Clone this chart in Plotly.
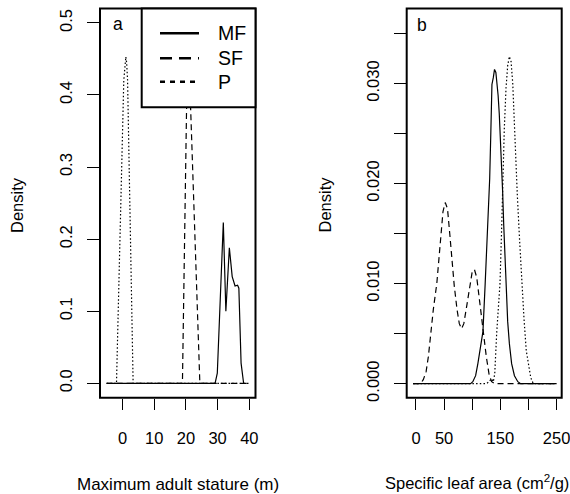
import plotly.graph_objects as go

W, H = 570, 494

# ---------------- data ----------------
# Panel a: maximum adult stature (m)
mf_a_x = [-5, 29.2, 29.9, 31.8, 32.6, 33.7, 34.6, 35.5, 36.3, 36.7, 37.4, 38.2]
mf_a_y = [0, 0, 0.014, 0.223, 0.100, 0.188, 0.148, 0.135, 0.136, 0.132, 0.028, 0]

sf_a_x = [-5, 18.9, 20.2, 20.85, 21.5, 24.4, 40]
sf_a_y = [0, 0, 0.38, 0.46, 0.38, 0, 0]

p_a_x = [-5, -1.9, 0.4, 0.75, 1.05, 1.3, 1.6, 3.35, 40]
p_a_y = [0, 0, 0.42, 0.445, 0.453, 0.445, 0.42, 0, 0]

# Panel b: specific leaf area (cm2/g)
mf_b_x = [-5, 97, 101, 106, 110, 114, 119, 123, 127, 131, 133, 135, 137.5,
          139.6, 142, 144, 146, 148, 150, 152, 154, 156, 158, 160, 163, 166,
          170, 175, 181, 186, 250]
mf_b_y = [0, 0, 0.0002, 0.0008, 0.0020, 0.0035, 0.0052, 0.0100, 0.0150, 0.0205,
          0.0250, 0.0299, 0.0306, 0.0314, 0.0311, 0.0302, 0.0288, 0.0270, 0.0248,
          0.0222, 0.0192, 0.0158, 0.0125, 0.0095, 0.0062, 0.0040, 0.0020, 0.0008,
          0.0002, 0, 0]

sf_b_x = [-5, 8, 13, 18, 22, 26, 31, 37, 44, 48, 52, 56, 60, 64, 68, 73, 77,
          81, 85, 90, 96, 100, 104, 108, 113, 117, 121, 125, 130, 134.5, 140, 250]
sf_b_y = [0, 0, 0.0004, 0.0012, 0.0027, 0.0050, 0.0075, 0.0100, 0.0150, 0.0172,
          0.0181, 0.0175, 0.0150, 0.0122, 0.0098, 0.0074, 0.0060, 0.0055, 0.0060,
          0.0077, 0.0100, 0.0112, 0.0114, 0.0106, 0.0083, 0.0064, 0.0050, 0.0027,
          0.0009, 0.0002, 0, 0]

p_b_x = [-5, 125, 130, 134, 137.5, 140, 143.4, 146.5, 149.3, 152, 154, 157, 160,
         163, 166, 169, 172, 176, 180, 184, 188, 192, 196, 200, 204, 208.5, 250]
p_b_y = [0, 0, 0.0002, 0.0005, 0.0002, 0.0010, 0.0050, 0.0075, 0.0100, 0.0150,
         0.0200, 0.0255, 0.0295, 0.0318, 0.0327, 0.0322, 0.0300, 0.0234, 0.0190,
         0.0145, 0.0100, 0.0065, 0.0033, 0.0017, 0.0006, 0, 0]

a_xticks = [0, 10, 20, 30, 40]
a_xlabels = ["0", "10", "20", "30", "40"]
a_yticks = [0, 0.1, 0.2, 0.3, 0.4, 0.5]
a_ylabels = ["0.0", "0.1", "0.2", "0.3", "0.4", "0.5"]
b_xticks = [0, 50, 150, 250]
b_xlabels = ["0", "50", "150", "250"]
b_xstep = 50
b_yticks = [0, 0.010, 0.020, 0.030]
b_ylabels = ["0.000", "0.010", "0.020", "0.030"]
b_ystep = 0.005

legend_names = ["MF", "SF", "P"]

# ---------------- styling ----------------
FONT = "Liberation Sans, Arial, sans-serif"
FS = 16.5
DASH = "6px,4px"
DOT = "1.5px,2.2px"
LW = 1.2


def px_x(p):
    return p / W


def px_y(p):
    return 1 - p / H


fig = go.Figure()

series = [
    ("x", "y", mf_a_x, mf_a_y, "solid"),
    ("x", "y", sf_a_x, sf_a_y, DASH),
    ("x", "y", p_a_x, p_a_y, DOT),
    ("x2", "y2", mf_b_x, mf_b_y, "solid"),
    ("x2", "y2", sf_b_x, sf_b_y, DASH),
    ("x2", "y2", p_b_x, p_b_y, DOT),
]
for xa, ya, xs, ys, dash in series:
    fig.add_trace(go.Scatter(x=xs, y=ys, mode="lines", xaxis=xa, yaxis=ya,
                             line=dict(color="black", width=LW, dash=dash),
                             showlegend=False, hoverinfo="skip"))

ydom = [px_y(397.7), px_y(8.5)]
common = dict(showgrid=False, zeroline=False, showline=False, ticks="outside",
              tickcolor="black", tickwidth=1.3, color="black", automargin=False,
              ticklabeloverflow="allow",
              tickfont=dict(family=FONT, size=FS, color="black"))

fig.update_layout(
    width=W, height=H,
    margin=dict(l=0, r=0, t=0, b=0, autoexpand=False),
    paper_bgcolor="white", plot_bgcolor="white",
    xaxis=dict(domain=[px_x(100), px_x(255.5)], range=[-7.1, 41.95],
               tickvals=a_xticks, ticktext=a_xlabels, ticklen=11,
               ticklabelstandoff=14, anchor="y", **common),
    yaxis=dict(domain=ydom, range=[-0.02, 0.52], tickvals=a_yticks,
               ticktext=a_ylabels, ticklen=12, tickangle=-90,
               ticklabelstandoff=8, anchor="x", **common),
    xaxis2=dict(domain=[px_x(406.7), px_x(561.7)], range=[-16.5, 259],
                tickvals=b_xticks, ticktext=b_xlabels, ticklen=11,
                ticklabelstandoff=14, anchor="y2",
                minor=dict(tick0=0, dtick=b_xstep, ticks="outside", ticklen=11,
                           tickwidth=1.3, tickcolor="black"),
                **common),
    yaxis2=dict(domain=ydom, range=[-0.0014, 0.03749], tickvals=b_yticks,
                ticktext=b_ylabels, ticklen=12, tickangle=-90,
                ticklabelstandoff=8, anchor="x2",
                minor=dict(tick0=0, dtick=b_ystep, ticks="outside", ticklen=12,
                           tickwidth=1.3, tickcolor="black"),
                **common),
)

# plot boxes
for xr, yr in (("x domain", "y domain"), ("x2 domain", "y2 domain")):
    fig.add_shape(type="rect", xref=xr, yref=yr, x0=0, x1=1, y0=0, y1=1,
                  line=dict(color="black", width=2), fillcolor="rgba(0,0,0,0)",
                  layer="above")

# legend box (opaque) in panel a
fig.add_shape(type="rect", xref="paper", yref="paper",
              x0=px_x(141.7), x1=px_x(255.5), y0=px_y(107.3), y1=px_y(8.5),
              line=dict(color="black", width=2), fillcolor="white", layer="above")
leg_y = [33.3, 58.3, 81.7]
leg_dash = ["solid", "12px,7px", "5px,5px"]
for name, yy, dd in zip(legend_names, leg_y, leg_dash):
    fig.add_shape(type="line", xref="paper", yref="paper",
                  x0=px_x(160), x1=px_x(199), y0=px_y(yy), y1=px_y(yy),
                  line=dict(color="black", width=2.5, dash=dd), layer="above")
    fig.add_annotation(text=name, xref="paper", yref="paper", x=px_x(216),
                       y=px_y(yy), xanchor="left", yanchor="middle",
                       showarrow=False,
                       font=dict(family=FONT, size=19.5, color="black"))

# panel letters
fig.add_annotation(text="a", xref="paper", yref="paper", x=px_x(118), y=px_y(24),
                   xanchor="center", yanchor="middle", showarrow=False,
                   font=dict(family=FONT, size=FS + 1, color="black"))
fig.add_annotation(text="b", xref="paper", yref="paper", x=px_x(422), y=px_y(25),
                   xanchor="center", yanchor="middle", showarrow=False,
                   font=dict(family=FONT, size=FS + 1, color="black"))

# axis titles
for xx in (17, 324.5):
    fig.add_annotation(text="Density", xref="paper", yref="paper", x=px_x(xx),
                       y=px_y(205), xanchor="center", yanchor="middle",
                       textangle=-90, showarrow=False,
                       font=dict(family=FONT, size=FS, color="black"))
fig.add_annotation(text="Maximum adult stature (m)", xref="paper", yref="paper",
                   x=px_x(178), y=px_y(484), xanchor="center", yanchor="middle",
                   showarrow=False, font=dict(family=FONT, size=17, color="black"))
fig.add_annotation(text="Specific leaf area (cm<sup>2</sup>/g)", xref="paper",
                   yref="paper", x=px_x(477), y=px_y(482), xanchor="center",
                   yanchor="middle", showarrow=False,
                   font=dict(family=FONT, size=FS, color="black"))

fig.write_html("out.html", post_script="document.body.style.margin='0';",
               config={"displayModeBar": False})
